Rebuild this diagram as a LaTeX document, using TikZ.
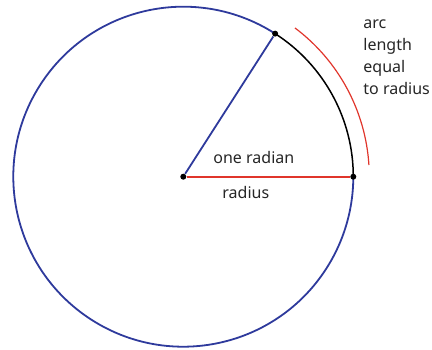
\documentclass[tikz,border=0pt]{standalone}
\usepackage{fontspec}
\setmainfont{Noto Sans}
\usepackage{tikz}
\usetikzlibrary{positioning}

\definecolor{circblue}{HTML}{2E3A9C}
\definecolor{radred}{HTML}{E0352B}

\begin{document}
\begin{tikzpicture}[
    x=1pt, y=1pt,
    dot node/.style={circle, fill=black, inner sep=0pt, minimum size=6pt},
    label text/.style={font=\fontsize{16}{22}\selectfont, text=black!85, inner sep=0pt},
    thick
]
    \useasboundingbox (-183.3,-173.3) rectangle (248.7,176.7);

    % Circle, split at one radian
    \draw[circblue, line width=1.8pt] (57.3:170) arc[start angle=57.3, end angle=360, radius=170];
    \draw[black, line width=1.5pt] (0:170) arc[start angle=0, end angle=57.3, radius=170];

    % Arc outside
    \draw[radred, line width=1.2pt] (3.6:186) arc[start angle=3.6, end angle=53.1, radius=186];

    % Points
    \node[dot node] (O) at (0,0) {};
    \node[dot node] (A) at (0:170) {};
    \node[dot node] (B) at (57.3:170) {};

    \draw[radred, line width=1.8pt] (O) -- (A);
    \draw[circblue, line width=1.8pt] (O) -- (B);

    % Labels
    \node[label text, anchor=base west] (oneradian) at (29.7,13) {one radian};
    \node[label text, anchor=base west] (radiuslbl) at (38.7,-22) {radius};
    \node[label text, align=left, anchor=base west] (arclbl) at (179.7,81.7) {arc\\length\\equal\\to radius};
\end{tikzpicture}
\end{document}
